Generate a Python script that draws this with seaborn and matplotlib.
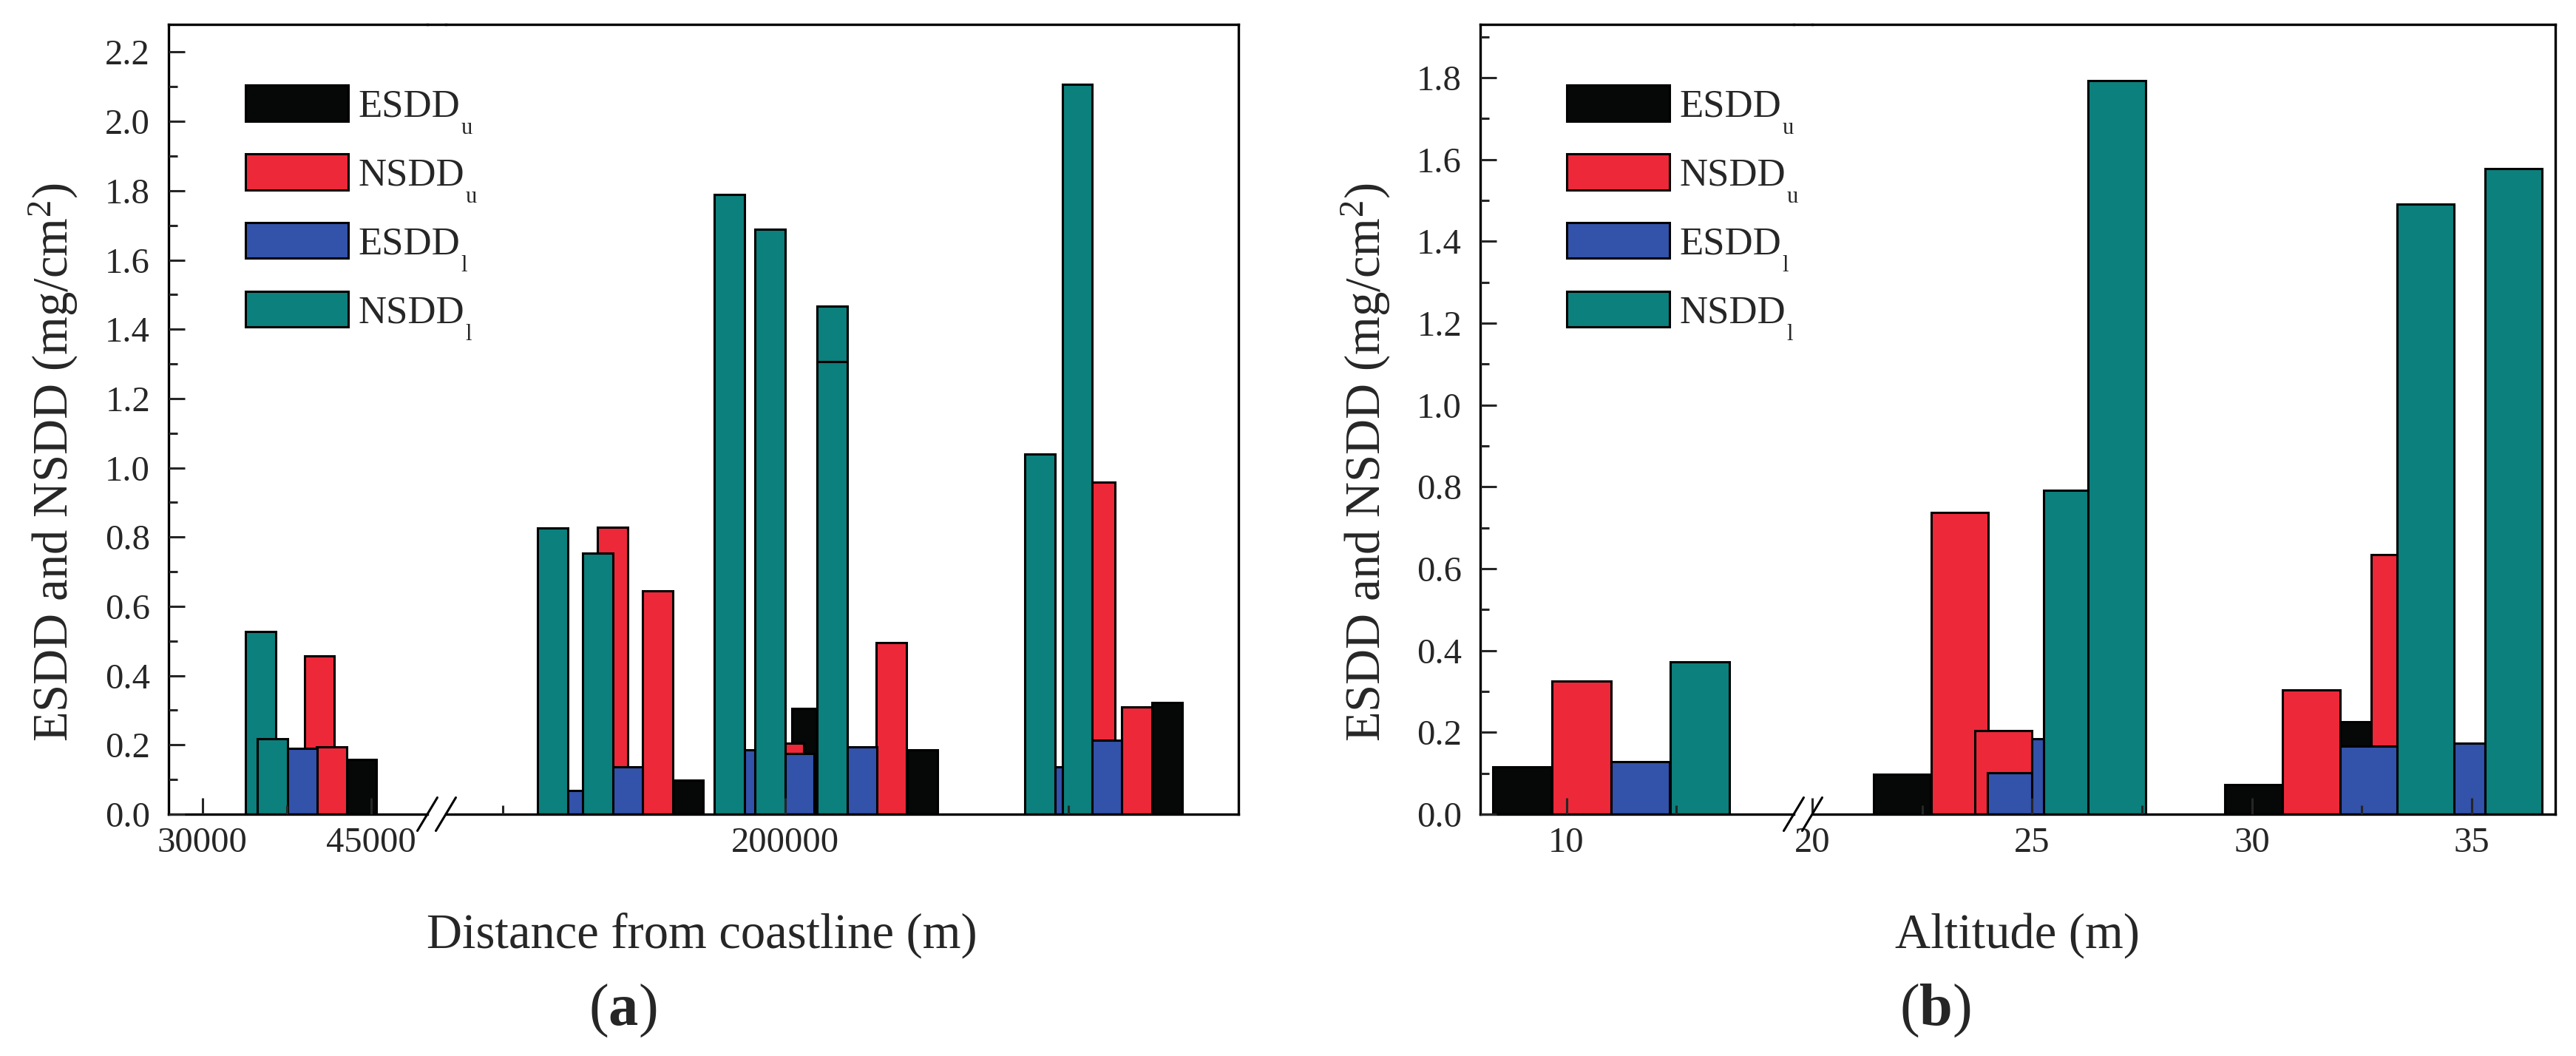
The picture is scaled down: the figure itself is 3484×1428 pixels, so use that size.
import numpy as np
import pandas as pd
import matplotlib
matplotlib.use("Agg")
import matplotlib.pyplot as plt
import seaborn as sns
from matplotlib.lines import Line2D
from matplotlib.patches import Patch
from matplotlib.transforms import IdentityTransform
from matplotlib.ticker import MultipleLocator, FixedLocator, FormatStrFormatter

# =====================================================
# DATA
# =====================================================

series_names = ["ESDD_u", "NSDD_u", "ESDD_l", "NSDD_l"]
series_base = ["ESDD", "NSDD", "ESDD", "NSDD"]
series_sub = ["u", "u", "l", "l"]
series_colors = ["#050807", "#ED2939", "#3352AA", "#0C807C"]

# (a) distance from coastline (m) -> value (mg/cm2)
dist_esdd_u = [44150, 165560, 207460, 248220, 334750]
val_esdd_u_a = [0.157, 0.098, 0.306, 0.185, 0.323]

dist_nsdd_u = [40400, 41500, 138850, 154820, 201180, 237450, 310920, 324010]
val_nsdd_u_a = [0.456, 0.195, 0.829, 0.645, 0.204, 0.496, 0.958, 0.309]

dist_esdd_l = [38870, 125750, 144220, 186510, 204850, 226980, 296510, 313400]
val_esdd_l_a = [0.189, 0.068, 0.136, 0.185, 0.174, 0.195, 0.137, 0.213]

dist_nsdd_l = [35180, 36210, 117660, 133660, 180170, 194550, 216370, 216370,
               289910, 303060]
val_nsdd_l_a = [0.527, 0.218, 0.826, 0.754, 1.789, 1.689, 1.467, 1.306,
                1.040, 2.107]

# (b) altitude (m) -> value (mg/cm2)
alt_esdd_u = [8.99, 22.04, 30.04, 32.07]
val_esdd_u_b = [0.115, 0.098, 0.0725, 0.225]

alt_nsdd_u = [10.34, 23.35, 24.35, 31.35, 33.36]
val_nsdd_u_b = [0.326, 0.737, 0.204, 0.303, 0.634]

alt_esdd_l = [11.68, 24.64, 25.65, 32.66, 34.65]
val_esdd_l_b = [0.128, 0.101, 0.184, 0.166, 0.174]

alt_nsdd_l = [13.03, 25.92, 26.93, 33.95, 35.95]
val_nsdd_l_b = [0.373, 0.791, 1.792, 1.491, 1.577]

xticks_a_left = [30000, 45000]
xticks_a_right = [200000]
xticks_b_left = [10]
xticks_b_right = [20, 25, 30, 35]


def long_table(xs, vals):
    rows = []
    for name, x, v in zip(series_names, xs, vals):
        for xi, vi in zip(x, v):
            rows.append({"x": xi, "value": vi, "series": name})
    return pd.DataFrame(rows)


df_a = long_table([dist_esdd_u, dist_nsdd_u, dist_esdd_l, dist_nsdd_l],
                  [val_esdd_u_a, val_nsdd_u_a, val_esdd_l_a, val_nsdd_l_a])
df_b = long_table([alt_esdd_u, alt_nsdd_u, alt_esdd_l, alt_nsdd_l],
                  [val_esdd_u_b, val_nsdd_u_b, val_esdd_l_b, val_nsdd_l_b])

# =====================================================
# STYLE
# =====================================================

sns.set_theme(style="ticks")
plt.rcParams.update({
    "font.family": ["Liberation Serif", "DejaVu Serif"],
    "mathtext.fontset": "custom",
    "mathtext.rm": "Liberation Serif",
    "mathtext.it": "Liberation Serif:italic",
    "mathtext.bf": "Liberation Serif:bold",
    "axes.axisbelow": False,
    "axes.linewidth": 2.4,
    "axes.edgecolor": "black",
})

palette = dict(zip(series_names, series_colors))

W, H = 3484, 1428
fig = plt.figure(figsize=(W / 100, H / 100), dpi=100)

Y_TOP, Y_BOT = 33, 1101


def px_axes(x0, x1):
    return fig.add_axes([x0 / W, 1 - Y_BOT / H, (x1 - x0) / W, (Y_BOT - Y_TOP) / H])


def draw_bars(ax, df, bar_w):
    df = df.copy()
    # same x twice in a series -> draw the repeat in a later layer
    df["layer"] = df.groupby(["series", "x"]).cumcount()
    for _, part in df.groupby("layer"):
        xs = np.unique(part["x"])
        unit = np.diff(xs).min() if len(xs) > 1 else 1.0
        sns.barplot(data=part, x="x", y="value", hue="series",
                    hue_order=series_names, palette=palette,
                    native_scale=True, dodge=False, width=bar_w / unit,
                    errorbar=None, edgecolor="black", linewidth=2.2,
                    saturation=1, legend=False, ax=ax)
    ax.set_xlabel("")
    ax.set_ylabel("")


def style_axes(ax, left_side, ymax, xlim):
    ax.set_xlim(*xlim)
    ax.set_ylim(0, ymax)
    ax.tick_params(which="both", direction="in", top=False, right=False,
                   labelsize=35, pad=12)
    ax.tick_params(which="major", length=15.8, width=2.2)
    ax.tick_params(which="minor", length=8.6, width=2.2)
    ax.tick_params(axis="y", pad=18)
    ax.yaxis.set_major_locator(MultipleLocator(0.2))
    ax.yaxis.set_minor_locator(MultipleLocator(0.1))
    ax.yaxis.set_major_formatter(FormatStrFormatter("%.1f"))
    for s in ax.spines.values():
        s.set_linewidth(2.4)
    if left_side:
        ax.spines["right"].set_visible(False)
    else:
        ax.spines["left"].set_visible(False)
        ax.tick_params(axis="y", which="both", left=False, labelleft=False)


def add_break(x_left, x_right):
    # top spine continues across the break, "//" marks on the bottom axis
    fig.add_artist(Line2D([x_left / W, x_right / W], [1 - Y_TOP / H] * 2,
                          color="black", lw=2.4, solid_capstyle="projecting"))
    for xc in (x_left, x_right):
        fig.add_artist(Line2D([(xc - 13.5) / W, (xc + 13.5) / W],
                              [1 - (Y_BOT + 22.5) / H, 1 - (Y_BOT - 22.5) / H],
                              color="black", lw=2.2))


# =====================================================
# PANEL (a)
# =====================================================

a_left = px_axes(228, 578)
a_right = px_axes(603, 1675)

draw_bars(a_left, df_a[df_a["x"] < 60000], 2680)
draw_bars(a_right, df_a[df_a["x"] > 60000], 10700)

style_axes(a_left, True, 2.28, (27000, 50000))
style_axes(a_right, False, 2.28, (80000, 360000))
a_left.xaxis.set_major_locator(FixedLocator(xticks_a_left))
a_left.xaxis.set_minor_locator(MultipleLocator(7500))
a_right.xaxis.set_major_locator(FixedLocator(xticks_a_right))
a_right.xaxis.set_minor_locator(MultipleLocator(100000))
for ax in (a_left, a_right):
    ax.xaxis.set_major_formatter(FormatStrFormatter("%d"))
add_break(578, 603)

# =====================================================
# PANEL (b)
# =====================================================

b_left = px_axes(2002, 2426)
b_right = px_axes(2451, 3456)

draw_bars(b_left, df_b[df_b["x"] < 17], 1.34)
draw_bars(b_right, df_b[df_b["x"] > 17], 1.30)

style_axes(b_left, True, 1.93, (8.04, 15.17))
style_axes(b_right, False, 1.93, (20, 36.9))
b_left.xaxis.set_major_locator(FixedLocator(xticks_b_left))
b_left.xaxis.set_minor_locator(FixedLocator([12.5]))
b_right.xaxis.set_major_locator(FixedLocator(xticks_b_right))
b_right.xaxis.set_minor_locator(MultipleLocator(2.5))
for ax in (b_left, b_right):
    ax.xaxis.set_major_formatter(FormatStrFormatter("%d"))
add_break(2426, 2451)

# =====================================================
# LABELS AND LEGENDS
# =====================================================

ylab = r"ESDD and NSDD (mg/cm$^\mathregular{2}$)"
for ax, xc in ((a_left, 72), (b_left, 1847)):
    ax.set_ylabel(ylab, fontsize=48, ha="center", va="center")
    ax.yaxis.set_label_coords(xc / W, 1 - 625 / H, transform=fig.transFigure)

fig.text(949 / W, 1 - 1282 / H, "Distance from coastline (m)", fontsize=48,
         ha="center", va="baseline")
fig.text(2728 / W, 1 - 1282 / H, "Altitude (m)", fontsize=48,
         ha="center", va="baseline")
fig.text(842 / W, 1 - 1386 / H, r"($\mathbf{a}$)", fontsize=58,
         ha="center", va="baseline")
fig.text(2617 / W, 1 - 1386 / H, r"($\mathbf{b}$)", fontsize=58,
         ha="center", va="baseline")

LEG_FS = 38
handles = [Patch(facecolor=c, edgecolor="black", linewidth=2.2, label=l)
           for c, l in zip(series_colors, series_base)]
legends = []
for x0 in (332, 2119):
    legends.append(fig.legend(handles=handles, loc="upper left",
                              bbox_to_anchor=(x0 / W, 1 - 115 / H),
                              bbox_transform=fig.transFigure, frameon=False,
                              fontsize=LEG_FS, handlelength=2.63,
                              handleheight=1.04, handletextpad=0.25,
                              labelspacing=0.75, borderpad=0, borderaxespad=0))

# Origin-style low subscripts next to the legend labels
fig.canvas.draw()
renderer = fig.canvas.get_renderer()
fs_px = LEG_FS * fig.dpi / 72
for leg in legends:
    for t, sub in zip(leg.get_texts(), series_sub):
        bb = t.get_window_extent(renderer)
        baseline = bb.y0 + 0.216 * fs_px
        fig.text(bb.x1 + 2, baseline - 24, sub, fontsize=22,
                 ha="left", va="baseline", transform=IdentityTransform())

fig.savefig("out.png", dpi=100)
